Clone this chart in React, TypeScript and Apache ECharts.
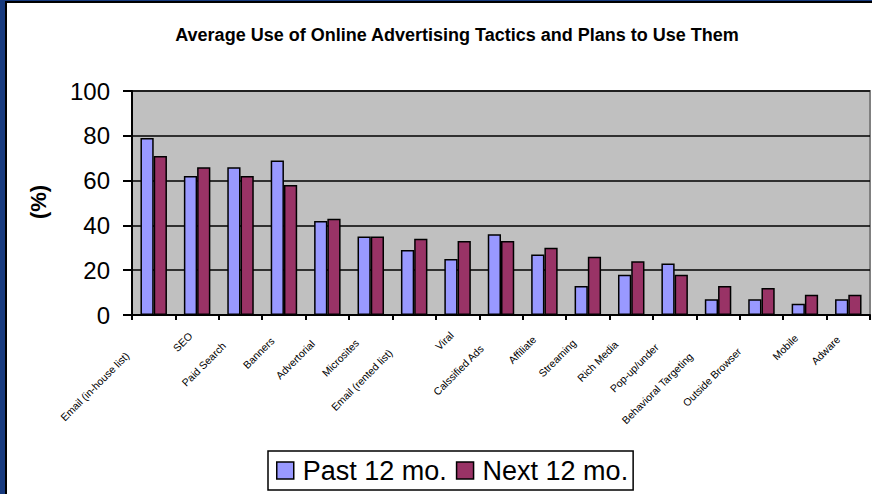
import React, { useEffect, useRef } from "react";
import * as echarts from "echarts";

const categories = [
  "Email (in-house list)",
  "SEO",
  "Paid Search",
  "Banners",
  "Advertorial",
  "Microsites",
  "Email (rented list)",
  "Viral",
  "Calssified Ads",
  "Affiliate",
  "Streaming",
  "Rich Media",
  "Pop-up/under",
  "Behavioral Targeting",
  "Outside Browser",
  "Mobile",
  "Adware",
];
const past12 = [79, 62, 66, 69, 42, 35, 29, 25, 36, 27, 13, 18, 23, 7, 7, 5, 7];
const next12 = [71, 66, 62, 58, 43, 35, 34, 33, 33, 30, 26, 24, 18, 13, 12, 9, 9];
const seriesNames = ["Past 12 mo.", "Next 12 mo."];
const yTicks = { min: 0, max: 100, interval: 20 };

const font = "Liberation Sans, Arial, sans-serif";
const labelSize = 10.5;

function measure(text: string, size: number): number {
  const c = document.createElement("canvas").getContext("2d");
  if (!c) return text.length * size * 0.5;
  c.font = `${size}px ${font}`;
  return c.measureText(text).width;
}

export default function App() {
  const ref = useRef<HTMLDivElement>(null);
  useEffect(() => {
    document.body.style.margin = "0";
    document.body.style.overflow = "hidden";
    document.documentElement.style.overflow = "hidden";
    if (!ref.current) return;
    const chart = echarts.init(ref.current, null, { renderer: "svg" });
    const xData = categories.map((c) => ({
      value: c,
      textStyle: { padding: [0, Math.round(measure(c, labelSize) * 0.4), 0, 0] },
    }));
    chart.setOption({
      animation: false,
      textStyle: { fontFamily: font },
      title: {
        text: "Average Use of Online Advertising Tactics and Plans to Use Them",
        left: 452,
        textAlign: "center",
        top: 21,
        textStyle: { fontSize: 18, fontWeight: "bold", color: "#000", fontFamily: font },
      },
      graphic: [
        {
          type: "text",
          x: 38,
          y: 202,
          rotation: Math.PI / 2,
          style: { text: "(%)", fontSize: 22, fontWeight: "bold", fill: "#000", fontFamily: font, align: "center", verticalAlign: "middle" },
        },
      ],
      legend: {
        left: 268,
        top: 451,
        itemWidth: 17,
        itemHeight: 17,
        itemGap: 9,
        padding: [6, 5, 6, 8],
        borderColor: "#000",
        borderWidth: 1.5,
        icon: "rect",
        textStyle: { fontSize: 27, color: "#000", fontFamily: font, padding: [0, 0, 0, 4] },
        itemStyle: { borderColor: "#000", borderWidth: 1.5 },
        data: seriesNames,
      },
      grid: {
        left: 132,
        top: 91,
        right: 2,
        bottom: 179,
        show: true,
        backgroundColor: "#c0c0c0",
        borderColor: "#808080",
        borderWidth: 2,
      },
      xAxis: {
        type: "category",
        data: xData,
        axisLine: { lineStyle: { color: "#000", width: 2 } },
        axisTick: { show: true, length: 5, lineStyle: { color: "#000", width: 2 } },
        axisLabel: { interval: 0, rotate: 45, fontSize: labelSize, color: "#000", margin: 13, fontFamily: font },
      },
      yAxis: {
        type: "value",
        min: yTicks.min,
        max: yTicks.max,
        interval: yTicks.interval,
        axisLine: { show: true, lineStyle: { color: "#000", width: 2 } },
        axisTick: { show: true, length: 9, lineStyle: { color: "#000", width: 2 } },
        axisLabel: { fontSize: 24, color: "#000", margin: 22, fontFamily: font },
        splitLine: { show: true, lineStyle: { color: "#000", width: 1.5 } },
      },
      series: [
        {
          name: seriesNames[0],
          type: "bar",
          data: past12,
          barGap: "0%",
          barCategoryGap: "39%",
          itemStyle: { color: "#9999ff", borderColor: "#000", borderWidth: 1.5 },
        },
        {
          name: seriesNames[1],
          type: "bar",
          data: next12,
          itemStyle: { color: "#993366", borderColor: "#000", borderWidth: 1.5 },
        },
      ],
    });
    return () => chart.dispose();
  }, []);
  return (
    <div style={{ position: "fixed", left: 0, top: 0, width: 872, height: 494, background: "#ffffff", overflow: "hidden" }}>
      <div style={{ position: "absolute", left: 0, top: 0, width: 5, height: 494, background: "#173a7e" }} />
      <div style={{ position: "absolute", left: 0, top: 0, width: 872, height: 1, background: "#173a7e" }} />
      <div style={{ position: "absolute", left: 5, top: 1, width: 2, height: 493, background: "#000" }} />
      <div style={{ position: "absolute", left: 5, top: 1, width: 867, height: 2, background: "#000" }} />
      <div ref={ref} style={{ position: "absolute", left: 0, top: 0, width: 872, height: 494 }} />
    </div>
  );
}
